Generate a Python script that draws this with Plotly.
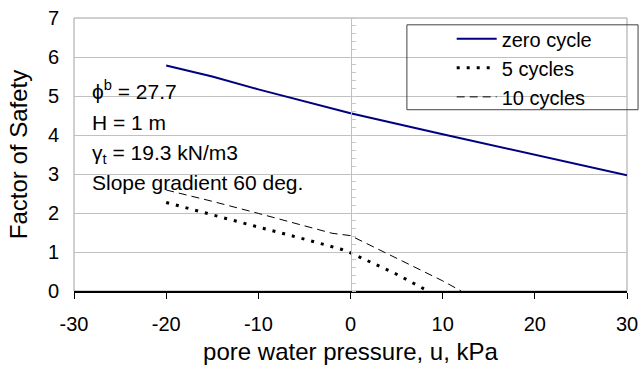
import plotly.graph_objects as go

# Data
u_zero = [-20, -15, -10, -5, 0, 10, 20, 30]
fs_zero = [5.78, 5.50, 5.17, 4.86, 4.56, 4.02, 3.49, 2.97]

u_5 = [-20, -15, -10, -5, -1, 0, 5, 8.4]
fs_5 = [2.27, 1.95, 1.64, 1.33, 1.07, 0.98, 0.43, 0.0]

u_10 = [-20, -15, -10, -5, -2, 0, 5, 10, 12]
fs_10 = [2.59, 2.30, 1.99, 1.68, 1.48, 1.42, 0.84, 0.26, 0.0]

x_ticks = [-30, -20, -10, 0, 10, 20, 30]
x_labels = ["-30", "-20", "-10", "0", "10", "20", "30"]
y_ticks = [0, 1, 2, 3, 4, 5, 6, 7]

FONT = "Liberation Sans, Arial, sans-serif"
FS = 20

fig = go.Figure()
fig.add_trace(go.Scatter(x=u_zero, y=fs_zero, mode="lines", name="zero cycle",
                         line=dict(color="#000080", width=2)))
fig.add_trace(go.Scatter(x=u_5, y=fs_5, mode="lines", name="5 cycles",
                         line=dict(color="black", width=3, dash="3px,7px")))
fig.add_trace(go.Scatter(x=u_10, y=fs_10, mode="lines", name="10 cycles",
                         line=dict(color="black", width=1, dash="8px,5px")))
# helper trace so the crossing value axis at u = 0 is drawn
fig.add_trace(go.Scatter(x=[None], y=[None], yaxis="y2", showlegend=False,
                         hoverinfo="skip"))

fig.update_layout(
    width=640, height=367,
    margin=dict(l=74, r=13, t=18, b=76, autoexpand=False),
    paper_bgcolor="white", plot_bgcolor="white",
    font=dict(family=FONT, size=FS, color="black"),
    showlegend=True,
    legend=dict(x=0.683, y=0.995, xanchor="left", yanchor="top",
                bgcolor="rgba(0,0,0,0)", borderwidth=0,
                tracegroupgap=0, itemwidth=40),
    xaxis=dict(range=[-30, 30], tickvals=x_ticks, ticktext=x_labels,
               ticks="outside", ticklen=6,
               tickcolor="black", showline=True, linecolor="black", linewidth=2,
               showgrid=False, zeroline=False, ticklabelstandoff=8,
               title=dict(text="pore water pressure, u, kPa", standoff=9)),
    yaxis=dict(range=[0, 7], tickvals=y_ticks, ticks="", showline=False,
               showgrid=True, gridcolor="#c0c0c0", gridwidth=1, zeroline=False,
               ticklabelstandoff=14,
               title=dict(text="Factor of Safety", standoff=13)),
    yaxis2=dict(range=[0, 7], overlaying="y", anchor="free", position=0.5,
                side="right", showline=True, linecolor="#c0c0c0", linewidth=1,
                showticklabels=False, showgrid=False, zeroline=False,
                ticks="outside", ticklen=4, tickcolor="#c8c8c8", dtick=1,
                minor=dict(dtick=0.2, ticks="outside", ticklen=4, tickcolor="#c8c8c8")),
    shapes=[
        dict(type="rect", xref="paper", yref="paper", x0=0, x1=1, y0=0, y1=1,
             line=dict(color="#a0a0a0", width=1), layer="below"),
        dict(type="rect", xref="paper", yref="paper", x0=0.602, x1=1.02, y0=0.664, y1=0.975,
             line=dict(color="#404040", width=1), layer="above"),
    ],
)

notes = [
    ("\u03d5<sup>b</sup> = 27.7", 0.735),
    ("H = 1 m", 0.619),
    ("\u03b3<sub>t</sub> = 19.3 kN/m3", 0.502),
    ("Slope gradient 60 deg.", 0.399),
]
for txt, yy in notes:
    fig.add_annotation(text=txt, xref="paper", yref="paper", x=0.029, y=yy,
                       xanchor="left", yanchor="middle", showarrow=False,
                       font=dict(size=21, family=FONT, color="black"))

fig.write_html("out.html")
